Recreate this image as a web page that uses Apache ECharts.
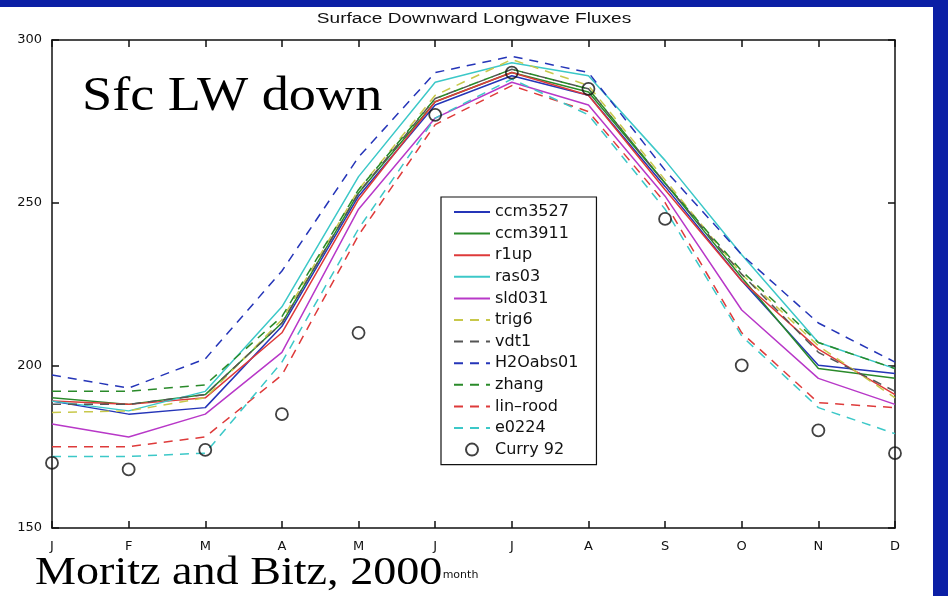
<!DOCTYPE html>
<html>
<head>
<meta charset="utf-8">
<script src="https://cdn.jsdelivr.net/npm/echarts@6/dist/echarts.min.js"></script>
<style>
html,body{margin:0;padding:0;background:#fff;}
#chart{width:948px;height:596px;}
</style>
</head>
<body>
<div id="chart"></div>
<script>
// ---- data ----
var months = ['J','F','M','A','M','J','J','A','S','O','N','D'];
var yTicks = [150, 200, 250, 300];

var ccm3527  = [189, 185, 187, 212, 252, 280, 289, 283, 255, 226, 200, 197.5];
var ccm3911  = [190, 188, 191, 213, 253, 281, 290, 284, 256, 227, 199, 196];
var r1up     = [189, 188, 190, 210, 251, 281, 290, 283, 254, 226, 205, 191];
var ras03    = [189, 186, 192, 218, 258, 287, 293, 289, 263, 234, 207, 199];
var sld031   = [182, 178, 185, 204, 248, 276, 287, 280, 252, 217, 196, 188];
var trig6    = [185.5, 186, 190, 214, 254, 283, 294, 286, 257, 228, 206, 190];
var vdt1     = [188, 188, 191, 213, 253, 282, 291, 285, 256, 228, 204, 192];
var H2Oabs01 = [197, 193, 202, 229, 264, 290, 295, 290, 260, 234, 213, 201];
var zhang    = [192, 192, 194, 215, 254, 282, 291, 285, 256, 229, 207, 199];
var linrood  = [175, 175, 178, 197, 240, 274, 286, 278, 250, 210, 188.5, 187];
var e0224    = [172, 172, 173, 201, 242, 276, 288, 277, 248, 209, 187, 179];
var curry92  = [170, 168, 174, 185, 210, 277, 290, 285, 245, 200, 180, 173];

var chartTitle = 'Surface Downward Longwave Fluxes';
var xName = 'month';
var bigLabel = 'Sfc LW down';
var citation = 'Moritz and Bitz, 2000';

// ---- styling ----
var C = {
  blue: '#2535b8', green: '#2a8a2a', red: '#de3a3a', cyan: '#3cc8c8',
  magenta: '#b838c8', yellow: '#c8c84a', gray: '#555555'
};
var DASH = [9, 7];

function lineSeries(name, data, color, dashed) {
  return {
    name: name, type: 'line', data: data, symbol: 'none', smooth: false,
    xAxisIndex: 0, yAxisIndex: 0,
    lineStyle: { color: color, width: 1.5, type: dashed ? DASH : 'solid' },
    itemStyle: { color: color },
    emphasis: { disabled: true }
  };
}

var series = [
  lineSeries('ccm3527', ccm3527, C.blue, false),
  lineSeries('ccm3911', ccm3911, C.green, false),
  lineSeries('r1up', r1up, C.red, false),
  lineSeries('ras03', ras03, C.cyan, false),
  lineSeries('sld031', sld031, C.magenta, false),
  lineSeries('trig6', trig6, C.yellow, true),
  lineSeries('vdt1', vdt1, C.gray, true),
  lineSeries('H2Oabs01', H2Oabs01, C.blue, true),
  lineSeries('zhang', zhang, C.green, true),
  lineSeries('lin\u2013rood', linrood, C.red, true),
  lineSeries('e0224', e0224, C.cyan, true),
  {
    name: 'Curry 92', type: 'scatter', data: curry92, symbol: 'circle', symbolSize: 12,
    clip: false, z: 5,
    itemStyle: { color: 'rgba(255,255,255,0)', borderColor: '#111', borderWidth: 1.8 },
    emphasis: { disabled: true }
  }
];

var legendData = series.map(function (s) {
  if (s.type === 'line') return { name: s.name, itemStyle: { opacity: 0 } };
  return { name: s.name };
});

var chart = echarts.init(document.getElementById('chart'), null, { renderer: 'canvas' });

var axisLine = { show: true, lineStyle: { color: '#111', width: 1.5 } };
var axisTick = { show: true, inside: true, length: 7, lineStyle: { color: '#111', width: 1.5 } };

chart.setOption({
  animation: false,
  backgroundColor: '#ffffff',
  grid: { left: 52, right: 53, top: 40, bottom: 68, containLabel: false },
  xAxis: [
    {
      type: 'category', data: months, boundaryGap: false, position: 'bottom',
      axisLine: axisLine, axisTick: axisTick,
      axisLabel: { color: '#111', fontFamily: 'DejaVu Sans', fontSize: 13, margin: 12 },
      splitLine: { show: false },
      name: xName, nameLocation: 'middle', nameGap: 42,
      nameTextStyle: { color: '#111', fontFamily: 'DejaVu Sans', fontSize: 11, padding: [0, 26, 0, 0] }
    },
    {
      type: 'category', data: months, boundaryGap: false, position: 'top',
      axisLine: axisLine, axisTick: axisTick, axisLabel: { show: false }, splitLine: { show: false }
    }
  ],
  yAxis: [
    {
      type: 'value', min: yTicks[0], max: yTicks[yTicks.length - 1], interval: 50, position: 'left',
      axisLine: axisLine, axisTick: axisTick,
      axisLabel: { color: '#111', fontFamily: 'DejaVu Sans', fontSize: 13, margin: 10 },
      splitLine: { show: false }
    },
    {
      type: 'value', min: yTicks[0], max: yTicks[yTicks.length - 1], interval: 50, position: 'right',
      axisLine: axisLine, axisTick: axisTick, axisLabel: { show: false }, splitLine: { show: false }
    }
  ],
  legend: {
    orient: 'vertical', left: 441, top: 197,
    data: legendData,
    backgroundColor: '#ffffff', borderColor: '#111', borderWidth: 1.2,
    padding: [7, 18, 7, 12],
    itemWidth: 36, itemHeight: 12, itemGap: 5.6,
    textStyle: { color: '#111', fontFamily: 'DejaVu Sans', fontSize: 16 },
    selectedMode: false
  },
  graphic: [
    { type: 'rect', shape: { x: 0, y: 0, width: 948, height: 7 }, style: { fill: '#0b1fa5' }, z: 100 },
    { type: 'rect', shape: { x: 933, y: 0, width: 15, height: 596 }, style: { fill: '#0b1fa5' }, z: 100 },
    {
      type: 'text', x: 474, y: 19, scaleX: 1.36, z: 50,
      style: { text: chartTitle, fontFamily: 'Liberation Sans', fontSize: 14, fill: '#111',
               textAlign: 'center', textVerticalAlign: 'middle' }
    },
    {
      type: 'text', x: 82, y: 73, scaleX: 1.13, z: 50,
      style: { text: bigLabel, fontFamily: 'Liberation Serif', fontSize: 48, fill: '#000',
               textAlign: 'left', textVerticalAlign: 'top' }
    },
    {
      type: 'text', x: 35, y: 553, scaleX: 1.125, z: 50,
      style: { text: citation, fontFamily: 'Liberation Serif', fontSize: 41, fill: '#000',
               textAlign: 'left', textVerticalAlign: 'top' }
    }
  ],
  series: series
});
</script>
</body>
</html>
